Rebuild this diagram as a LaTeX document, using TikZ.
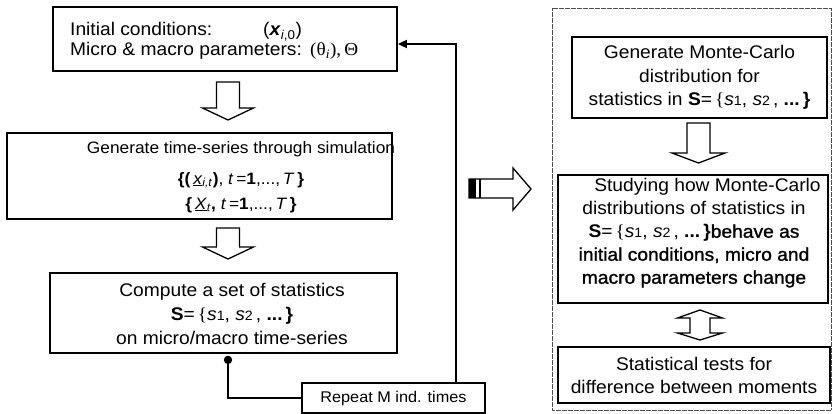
\documentclass[tikz,border=0pt]{standalone}
\usepackage{fontspec}
\setmainfont{Liberation Sans}[FakeStretch=1.05]
\newfontfamily\symbfont{Liberation Serif}[FakeStretch=1.05]
\newfontfamily\heavyfont{Liberation Sans}[FakeStretch=1.05,FakeBold=1.2]
\usetikzlibrary{calc,arrows.meta}

% set of statistics S = {s1, s2, ...}
\newcommand{\idx}[1]{{\fontsize{13.5}{13.5}\selectfont #1}}
\newcommand{\statset}{\textbf{S}=\,{\symbfont\{}\textit{s}\idx{1}, \textit{s}\idx{2}\,, \textbf{...\,\}}}

\begin{document}
\begin{tikzpicture}[x=1pt,y=-1pt,
  box/.style={draw,line width=1.8pt,rectangle,inner sep=0pt,align=center,
              font=\fontsize{18.3}{23}\selectfont},
  txt/.style={inner sep=0pt,align=center,font=\fontsize{18.3}{23}\selectfont},
  conn/.style={line width=1.8pt},
  hollow/.style={draw,fill=white,line width=1.3pt,line join=miter},
]
\useasboundingbox (0,0) rectangle (833,414);

% ---------- left column: simulation loop ----------
\node[box,minimum width=344pt,minimum height=64pt] (b1) at (225,39) {};
\node[txt,anchor=base west] (b1l1) at (70,36) {Initial conditions:};
\node[txt,anchor=base west] (b1v1) at (263,36) {(\textbf{\textit{x}}\textsubscript{\textit{i},0})};
\node[txt,anchor=base west] (b1l2) at (70,56) {Micro \& macro parameters:};
\node[txt,anchor=base west] (b1v2) at (310,56) {{\symbfont(θ\textsubscript{\textit{i}}),\,Θ}};

\node[box,minimum width=385pt,minimum height=86pt] (b2) at (199.5,176) {};
\node[txt,font=\fontsize{16.5}{25}\selectfont] (b2t) at (241,177)
  {Generate time-series through simulation\\[6pt]
   \textbf{\{(}\,\underline{\textit{x}}\textsubscript{\textit{i,t}}\textbf{)}, \textit{t}\,=\textbf{1},...,\,\textit{T}\,\textbf{\}}\\
   \textbf{\{}\,\underline{\textit{X}}\textsubscript{\textit{t}}\textbf{,} \textit{t}\,=\textbf{1},...,\,\textit{T}\,\textbf{\}}};

\node[box,minimum width=347pt,minimum height=80pt] (b3) at (223.5,313) {};
\node[txt,font=\fontsize{18.3}{24}\selectfont] (b3t) at (232,314)
  {Compute a set of statistics\\ \statset\\ on micro/macro time-series};

\node[box,minimum width=183pt,minimum height=30pt,font=\fontsize{15.5}{18}\selectfont] (rep) at (393.5,398)
  {Repeat M ind. times};

% hollow arrows between the steps
\draw[hollow] (216.5,82) -- (239.5,82) -- (239.5,108) -- (253.5,108) -- (228,120)
  -- (202.5,108) -- (216.5,108) -- cycle;
\draw[hollow] (216.5,228) -- (239.5,228) -- (239.5,247) -- (253.5,247) -- (228,259)
  -- (202.5,247) -- (216.5,247) -- cycle;

% repetition loop
\coordinate (dot) at ($(b3.south)+(4.5,6)$);
\draw[conn] (rep.west) -| (dot);
\fill (dot) circle (4.2pt);
\draw[conn,-{Triangle[length=9pt,width=8pt]}] ($(rep.north east)+(-30,0)$) |- ($(b1.east)+(0,5)$);

% ---------- transition arrow ----------
\draw[hollow] (469,179) -- (513,179) -- (513,168) -- (531,189) -- (513,210)
  -- (513,198) -- (469,198) -- cycle;
\fill (469,179) rectangle (476,198);
\draw[line width=1.3pt] (480,179) -- (480,198);

% ---------- right column: analysis ----------
\draw[gray!60!black,line width=0.9pt,dash pattern=on 0.6pt off 0.6pt] (552,8) rectangle (831,410);

\node[box,minimum width=255pt,minimum height=81pt,font=\fontsize{18.3}{23.5}\selectfont] (r1) at (699.5,77.5)
  {Generate Monte-Carlo\\ distribution for\\ statistics in \statset};

\node[box,minimum width=270pt,minimum height=128pt] (r2) at (693,239) {};
\node[txt] (r2t) at (694,233)
  {\hspace*{27pt}Studying how Monte-Carlo\\
   distributions of statistics in\\
   \statset{\heavyfont behave as}\\
   {\heavyfont initial conditions, micro and}\\
   {\heavyfont macro parameters change}};

\node[box,minimum width=272pt,minimum height=56pt] (r3) at (694,375)
  {Statistical tests for\\ difference between moments};

\draw[hollow] (687,123) -- (710,123) -- (710,153) -- (725,153) -- (698.5,163)
  -- (672,153) -- (687,153) -- cycle;
\draw[hollow] (700,310) -- (722.5,318) -- (710,318) -- (710,333) -- (722.5,333)
  -- (700,340) -- (677.5,333) -- (690,333) -- (690,318) -- (677.5,318) -- cycle;
\end{tikzpicture}
\end{document}
